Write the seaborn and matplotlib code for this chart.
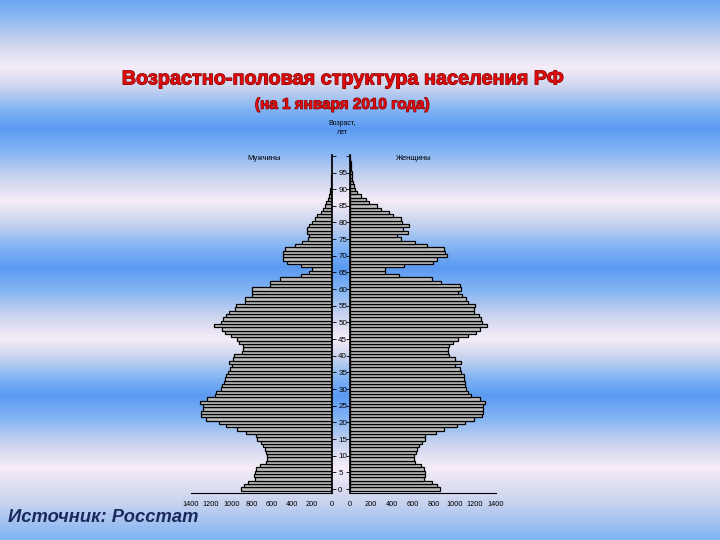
import matplotlib
matplotlib.use("Agg")
import matplotlib.pyplot as plt
import matplotlib.patheffects as pe
from matplotlib.colors import LinearSegmentedColormap
import numpy as np
import pandas as pd
import seaborn as sns

#data: population of Russia by single year of age, thousands
ages = list(range(0, 101))

men = [900, 872, 830, 765, 770, 760, 750, 715, 660, 650,
       648, 660, 670, 685, 705, 740, 750, 850, 940, 1050,
       1120, 1250, 1300, 1300, 1285, 1285, 1315, 1240, 1160, 1155,
       1100, 1090, 1075, 1060, 1055, 1030, 1010, 995, 1020, 985,
       975, 890, 880, 885, 920, 940, 1000, 1060, 1095, 1170,
       1100, 1085, 1050, 1020, 965, 950, 865, 860, 790, 790,
       790, 620, 615, 520, 310, 230, 195, 305, 450, 485,
       490, 490, 465, 370, 300, 237, 227, 247, 244, 227,
       200, 165, 147, 105, 90, 67, 57, 40, 30, 23,
       17, 12, 9, 7, 5, 4, 3, 2, 2, 1, 1]

women = [860, 832, 784, 712, 718, 722, 712, 680, 628, 616,
         610, 632, 645, 658, 688, 716, 720, 820, 900, 1022,
         1100, 1190, 1270, 1280, 1278, 1280, 1294, 1250, 1160, 1130,
         1110, 1100, 1100, 1095, 1090, 1062, 1050, 1010, 1060, 1010,
         945, 940, 940, 950, 990, 1040, 1130, 1205, 1245, 1315,
         1265, 1255, 1240, 1185, 1185, 1200, 1130, 1110, 1075, 1040,
         1060, 1050, 870, 784, 474, 335, 340, 518, 794, 830,
         934, 915, 900, 736, 624, 486, 450, 552, 506, 562,
         496, 492, 414, 372, 302, 256, 185, 150, 102, 65,
         48, 38, 28, 22, 19, 16, 12, 8, 6, 4, 3]

x_ticks = [0, 200, 400, 600, 800, 1000, 1200, 1400]
age_ticks = list(range(0, 101, 5))
age_labels = [str(a) for a in range(0, 96, 5)] + [""]

df = pd.DataFrame({"age": ages, "men": men, "women": women})

sns.set_theme(style="white")
plt.rcParams["font.family"] = ["Liberation Sans", "DejaVu Sans"]

fig = plt.figure(figsize=(7.2, 5.4), dpi=100)

#background with horizontal blue / white bands
bg = fig.add_axes([0, 0, 1, 1], zorder=-10)
bg_cmap = LinearSegmentedColormap.from_list(
    "bands", ["#5b9af2", "#86b6f4", "#c9d3ee", "#f6ecf7"])
rows = np.arange(540)
band_y = [0, 67, 128, 200, 267, 338, 395, 467, 540]
band_t = [0.15, 1, 0, 1, 0, 1, 0, 1, 0.3]
prof = np.interp(rows, band_y, band_t)
bg.imshow(np.tile(prof[:, None], (1, 4)), aspect="auto", cmap=bg_cmap,
          vmin=0, vmax=1, extent=[0, 1, 0, 1])
bg.set_axis_off()

bar_color = "#bdbdbd"
y_min, y_max = -1.1, 100.2

#left panel: men
ax_m = fig.add_axes([0.2653, 0.0876, 0.1958, 0.625])
sns.barplot(data=df, x="men", y="age", orient="y", native_scale=True,
            width=1, color=bar_color, saturation=1, edgecolor="black",
            linewidth=0.9, errorbar=None, ax=ax_m)
ax_m.set_xlim(1400, 0)

#right panel: women
ax_w = fig.add_axes([0.4861, 0.0876, 0.2028, 0.625])
sns.barplot(data=df, x="women", y="age", orient="y", native_scale=True,
            width=1, color=bar_color, saturation=1, edgecolor="black",
            linewidth=0.9, errorbar=None, ax=ax_w)
ax_w.set_xlim(0, 1400)

for ax in (ax_m, ax_w):
    ax.patch.set_alpha(0)
    ax.set_ylim(y_min, y_max)
    ax.set_xlabel("")
    ax.set_ylabel("")
    ax.set_xticks(x_ticks)
    ax.set_xticklabels([str(v) for v in x_ticks], fontsize=5.3)
    ax.set_yticks(age_ticks)
    for s in ax.spines.values():
        s.set_visible(False)
    ax.spines["bottom"].set_visible(True)
    ax.spines["bottom"].set_color("black")
    ax.spines["bottom"].set_linewidth(0.8)
    ax.tick_params(axis="x", length=2, width=0.6, pad=4, colors="black")

#age axis sits in the middle gap
ax_m.spines["right"].set_visible(True)
ax_m.spines["right"].set_color("black")
ax_m.yaxis.tick_right()
ax_m.set_yticklabels(age_labels, fontsize=5.8)
ax_m.tick_params(axis="y", length=3, width=0.6, pad=1.5, colors="black")

ax_w.spines["left"].set_visible(True)
ax_w.spines["left"].set_color("black")
ax_w.yaxis.tick_left()
ax_w.set_yticklabels([])
ax_w.tick_params(axis="y", length=3, width=0.6, colors="black")

#titles and labels
red_edge = [pe.withStroke(linewidth=0.8, foreground="#7a0000")]
fig.text(0.476, 0.854, "Возрастно-половая структура населения РФ",
         ha="center", va="center", fontsize=14.3, fontweight="bold",
         color="#dd0b0b", path_effects=red_edge)
fig.text(0.476, 0.806, "(на 1 января 2010 года)", ha="center",
         va="center", fontsize=11, fontweight="bold", color="#dd0b0b",
         path_effects=red_edge)
fig.text(0.475, 0.763, "Возраст,\nлет", ha="center", va="center",
         fontsize=5, color="black", linespacing=1.3)
fig.text(0.367, 0.707, "Мужчины", ha="center", va="center",
         fontsize=5.5, color="black")
fig.text(0.574, 0.707, "Женщины", ha="center", va="center",
         fontsize=5.5, color="black")
fig.text(0.011, 0.041, "Источник: Росстат", ha="left", va="center",
         fontsize=13.2, fontweight="bold", fontstyle="italic",
         color="#1a2a5e")

fig.savefig("out.png", dpi=100)
